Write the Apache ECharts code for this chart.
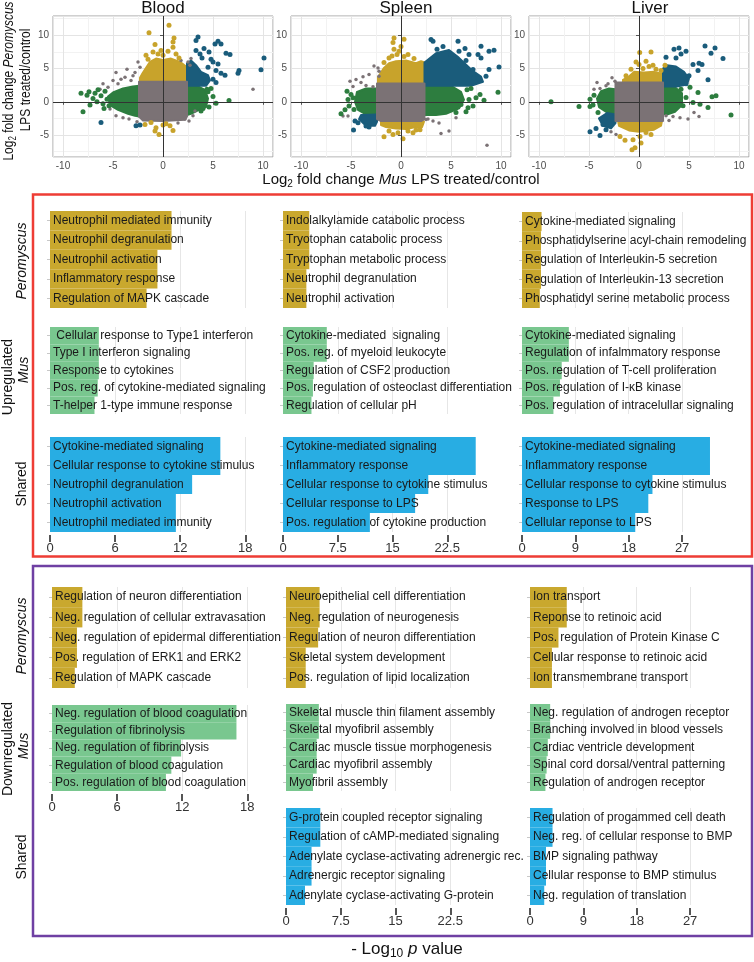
<!DOCTYPE html>
<html><head><meta charset="utf-8">
<script src="https://cdn.jsdelivr.net/npm/echarts@6/dist/echarts.min.js"></script>
<style>html,body{margin:0;padding:0;background:#fff}#c{width:754px;height:962px}</style>
</head><body><div id="c"></div><script>
// ---------- Scatter data (log2 fold change: [Mus, Peromyscus]) ----------
const bloodGreyCore = [[-2.4,3.0],[2.4,3.0],[2.4,-2.2],[2.2,-2.7],[0,-2.9],[-2.0,-2.8],[-2.4,-2.2]];
const bloodYellowCore = [[-2.3,2.9],[2.4,2.9],[2.4,5.2],[1.7,6.0],[0.8,6.5],[0,6.3],[-0.7,6.5],[-1.3,6.0],[-2.0,4.4],[-2.3,3.6]];
const bloodGreenLeftCore = [[-2.4,-2.2],[-2.4,2.4],[-3.0,2.3],[-4.0,2.0],[-5.0,1.4],[-5.5,0.8],[-5.3,-0.5],[-4.5,-1.2],[-3.5,-1.8],[-2.8,-2.1]];
const bloodGreenRightCore = [[2.4,-2.0],[2.4,2.4],[3.5,2.3],[4.2,1.8],[4.5,0.5],[4.3,-0.8],[3.5,-1.3],[2.8,-1.8]];
const bloodBlueCore = [[2.4,2.4],[4.3,2.4],[4.7,3.2],[4.5,4.0],[3.8,4.5],[3.3,5.5],[2.8,6.2],[2.4,5.8]];
const bloodGreyPts = [[9.0,1.9],[-4.7,4.4],[-2.5,6.0],[-2.3,5.2],[-3.8,3.7],[-3.2,3.2],[-4.5,2.7],[-2.8,4.4],[-3.0,3.9],[-5.0,3.2],[-6.0,2.7],[-6.3,1.9],[2.5,6.0],[2.8,6.5],[2.7,5.5],[1.8,6.2],[2.2,-2.6],[3.0,-2.1],[-4.7,-2.1],[-5.3,-1.1],[-4.0,-2.4],[3.2,-1.4],[-3.4,-2.6],[-2.6,-3.0],[1.5,-3.2],[-3.6,4.9],[-4.2,3.4],[-5.5,2.2],[2.6,-2.9]];
const bloodYellowPts = [[-1.4,10.4],[1.1,9.6],[1.0,9.0],[0.6,11.5],[-0.8,8.6],[-0.2,7.7],[-1.0,7.5],[0.0,7.0],[1.0,8.2],[1.3,7.2],[-1.7,7.0],[-1.2,-3.1],[-1.8,-3.4],[-0.7,-3.9],[-0.4,-4.9],[0.0,-3.5],[0.3,-3.3],[1.0,-4.3],[0.7,-3.6],[-0.8,-4.4],[-0.5,7.2],[0.5,7.6],[1.6,6.6],[-1.5,6.4]];
const bloodGreenPts = [[-8.2,1.3],[-8.0,-1.5],[-7.6,1.0],[-7.4,1.5],[-7.0,0.5],[-6.8,1.3],[-6.5,1.8],[-6.2,0.9],[-6.0,-0.3],[-5.8,1.6],[-5.6,0.4],[-5.4,-0.6],[-6.6,0.0],[-7.3,-0.5],[-5.9,-1.0],[6.6,0.2],[4.6,-0.8],[4.5,1.5],[4.4,1.9],[5.0,0.8],[4.0,-1.0],[3.8,-1.4],[5.3,-0.2],[4.8,2.0]];
const bloodBluePts = [[3.5,9.75],[3.3,9.2],[5.5,9.1],[5.8,8.7],[5.2,8.7],[4.1,8.0],[4.6,7.5],[3.3,7.7],[6.3,7.3],[6.7,7.1],[5.0,6.0],[5.5,5.7],[5.3,4.7],[5.8,4.3],[7.6,4.7],[7.5,4.3],[10.1,6.6],[9.8,4.8],[3.7,7.2],[4.5,5.2],[5.3,2.9],[-6.2,-3.1],[-2.7,-3.6],[-2.3,-3.5],[4.8,6.4],[3.9,6.6],[6.2,4.0],[5.0,3.4]];

const spleenGreyCore = [[-2.4,-2.6],[-2.0,-2.9],[2.0,-2.9],[2.35,-2.6],[2.35,2.75],[-2.4,2.75]];
const spleenYellowTopCore = [[-2.3,2.7],[2.35,2.7],[2.35,5.9],[2.0,6.1],[1.5,5.8],[0.5,6.2],[-0.5,6.1],[-1.2,5.8],[-1.7,5.1],[-2.3,3.7]];
const spleenYellowBottomCore = [[-2.0,-2.8],[2.0,-2.8],[2.3,-3.0],[2.1,-3.8],[1.5,-3.8],[0.5,-4.1],[-0.5,-4.0],[-1.5,-3.8],[-2.0,-3.5]];
const spleenGreenRightCore = [[2.35,-2.0],[2.35,2.4],[5.0,2.4],[6.0,1.5],[6.3,0.3],[5.8,-1.0],[4.5,-1.8],[3.5,-2.0]];
const spleenGreenLeftCore = [[-2.4,-2.2],[-2.4,2.0],[-3.5,2.0],[-4.4,1.5],[-4.6,0.0],[-4.3,-1.2],[-3.5,-1.9]];
const spleenBlueUpperCore = [[2.35,2.4],[7.0,2.4],[8.2,3.0],[8.0,3.8],[7.2,4.6],[5.8,6.6],[4.8,7.8],[3.5,7.3],[2.35,5.9]];
const spleenBlueLowerCore = [[-2.4,-1.9],[-4.0,-2.0],[-4.2,-2.6],[-3.5,-3.6],[-2.6,-3.6],[-2.4,-3.0]];
const spleenGreyPts = [[-5.1,3.1],[-4.5,3.35],[-3.8,3.75],[-3.2,4.1],[-2.3,5.1],[-2.2,4.6],[-2.2,3.85],[-2.8,2.25],[-3.5,2.45],[2.5,-2.65],[3.2,-2.9],[4.0,-4.75],[4.8,-4.4],[8.6,-6.55],[2.7,-2.6],[-5.8,-2.15],[-5.3,-2.15],[-2.7,5.4],[-4.0,2.9],[3.8,-3.2],[-4.8,2.3],[5.5,-2.4]];
const spleenYellowPts = [[-0.7,9.6],[-0.8,8.9],[0.3,9.4],[-0.7,7.9],[-0.9,6.9],[-0.2,7.6],[0.7,7.1],[-1.7,5.9],[-1.7,-5.25],[-0.8,-4.9],[-0.3,-4.65],[0.2,-5.55],[1.2,-4.65],[1.5,-4.25],[-1.2,-4.4],[0.7,-4.4],[-1.2,6.6],[1.3,6.5],[0.0,8.3],[-0.4,7.1],[0.3,6.8],[1.9,-4.2]];
const spleenGreenPts = [[9.7,1.45],[7.9,1.1],[7.5,0.6],[6.8,0.35],[8.3,0.25],[6.7,-0.9],[6.5,-1.5],[7.2,-0.65],[6.0,-0.4],[6.6,1.8],[7.0,2.0],[-5.4,1.6],[-5.0,1.1],[-5.3,0.35],[-6.0,-1.8],[-5.2,-0.65],[-4.7,-1.15],[-4.8,0.6],[-5.6,-1.2],[5.5,-1.6]];
const spleenBluePts = [[3.0,9.35],[3.2,9.1],[5.7,9.1],[8.0,8.35],[8.8,7.6],[9.3,7.75],[9.8,5.25],[7.7,7.1],[8.0,6.6],[6.8,7.1],[5.8,7.6],[5.0,7.1],[7.2,4.85],[8.5,3.85],[7.3,3.6],[8.8,4.85],[6.4,8.0],[4.2,8.3],[3.6,7.9],[6.5,6.2],[-4.75,-4.25],[-4.3,-3.15],[-3.2,-3.8],[-3.5,-3.65],[-4.6,-2.9]];

const liverGreyCore = [[-2.35,-2.9],[2.4,-2.9],[2.4,2.9],[-2.35,2.9]];
const liverYellowTopCore = [[-1.6,2.85],[2.4,2.85],[2.4,4.2],[1.5,4.5],[0.5,4.4],[-0.5,4.5],[-1.0,3.8],[-1.6,3.3]];
const liverYellowBottomCore = [[-2.1,-2.85],[2.3,-2.85],[2.2,-3.6],[1.5,-4.2],[0,-4.5],[-1.0,-4.3],[-2.0,-3.6]];
const liverGreenLeftCore = [[-2.35,-1.9],[-2.35,1.9],[-3.0,2.0],[-3.8,1.6],[-4.2,0.5],[-4.0,-0.8],[-3.2,-1.6]];
const liverGreenRightCore = [[2.4,-1.8],[2.4,2.3],[3.6,2.2],[4.3,1.3],[4.3,-0.5],[3.6,-1.5],[2.8,-1.9]];
const liverBlueUpperCore = [[2.4,2.3],[3.8,2.3],[4.8,2.6],[5.0,3.5],[4.5,4.5],[3.7,5.3],[2.8,5.5],[2.4,5.0]];
const liverBlueLowerCore = [[-2.35,-1.9],[-3.2,-1.7],[-4.0,-2.5],[-3.6,-3.6],[-2.8,-4.0],[-2.35,-3.2]];
const liverGreyPts = [[-3.3,2.4],[-3.9,2.0],[-2.4,3.1],[-3.1,2.7],[2.7,-2.1],[3.4,-2.2],[4.1,-2.4],[6.0,-2.2],[4.9,-2.6],[-2.3,-4.9],[-2.8,-4.5],[-4.2,2.9],[-2.7,3.6],[5.5,-1.6],[3.0,-2.8],[-4.5,1.9]];
const liverYellowPts = [[0.07,7.4],[1.2,7.5],[-0.3,6.0],[0,5.6],[0.7,6.1],[1.4,5.5],[1.7,4.9],[2.2,4.7],[-0.8,4.9],[0.4,5.0],[2.6,5.5],[-0.7,-7.2],[-0.4,-6.9],[0.2,-6.2],[-1.4,-5.8],[-0.6,-5.7],[0.1,-5.2],[-1.9,-5.2],[0.7,-4.6],[1.2,-4.9],[-1.3,3.9],[1.0,5.3]];
const liverGreenPts = [[-8.8,0.0],[-6.0,-0.7],[-4.9,-0.7],[-4.6,-0.5],[-4.9,0.4],[-4.1,-1.6],[9.2,-2.0],[7.7,0.9],[7.3,0.75],[6.9,-0.85],[6.1,-0.35],[5.4,-0.1],[4.7,0.65],[5.9,1.4],[4.4,-0.6],[5.1,2.2],[4.2,1.9],[-4.5,1.0]];
const liverBluePts = [[6.6,8.4],[7.6,8.1],[7.2,7.3],[4.7,7.6],[4.0,8.1],[3.5,7.9],[8.4,6.5],[6.0,5.8],[6.3,5.6],[5.4,5.6],[5.9,4.7],[6.9,3.3],[2.7,6.7],[4.2,7.2],[3.7,6.6],[5.0,3.9],[4.7,2.7],[-4.9,-4.5],[-3.9,-5.05],[-4.3,-4.0],[-3.6,-3.4],[-3.3,-4.2]];

// ---------- Bar data (-log10 p) ----------
const upBloodPeroLabels = ["Neutrophil mediated immunity","Neutrophil degranulation","Neutrophil activation","Inflammatory response","Regulation of MAPK cascade"];
const upBloodPeroValues = [11.2,11.2,9.9,9.9,8.9];
const upSpleenPeroLabels = ["Indolalkylamide catabolic process","Tryotophan catabolic process","Tryptophan metabolic process","Neutrophil degranulation","Neutrophil activation"];
const upSpleenPeroValues = [3.6,3.6,3.6,3.2,3.2];
const upLiverPeroLabels = ["Cytokine-mediated signaling","Phosphatidylserine acyl-chain remodeling","Regulation of Interleukin-5 secretion","Regulation of Interleukin-13 secretion","Phosphatidyl serine metabolic process"];
const upLiverPeroValues = [3.3,3.2,3.2,3.2,3.0];
const upBloodMusLabels = [" Cellular response to Type1 interferon","Type I interferon signaling","Response to cytokines","Pos. reg. of cytokine-mediated signaling","T-helper 1-type immune response"];
const upBloodMusValues = [4.5,4.5,4.5,4.4,4.1];
const upSpleenMusLabels = ["Cytokine-mediated  signaling","Pos. reg. of myeloid leukocyte","Regulation of CSF2 production","Pos. regulation of osteoclast differentiation","Regulation of cellular pH"];
const upSpleenMusValues = [6.0,6.0,4.2,4.1,3.9];
const upLiverMusLabels = ["Cytokine-mediated signaling","Regulation of infalmmatory response","Pos. regulation of T-cell proliferation","Pos. regulation of I-\u03baB kinase","Pos. regulation of intracelullar signaling"];
const upLiverMusValues = [7.9,7.9,6.7,6.4,5.3];
const upBloodSharedLabels = ["Cytokine-mediated signaling","Cellular response to cytokine stimulus","Neutrophil degranulation","Neutrophil activation","Neutrophil mediated immunity"];
const upBloodSharedValues = [15.7,15.7,13.1,11.6,11.6];
const upSpleenSharedLabels = ["Cytokine-mediated signaling","Inflammatory response","Cellular response to cytokine stimulus","Cellular response to LPS","Pos. regulation of cytokine production"];
const upSpleenSharedValues = [26.4,26.4,19.9,18.1,11.9];
const upLiverSharedLabels = ["Cytokine-mediated signaling","Inflammatory response","Cellular response to cytokine stimulus","Response to LPS","Cellular reponse to LPS"];
const upLiverSharedValues = [31.7,31.7,22.0,21.3,19.1];

const downBloodPeroLabels = ["Regulation of neuron differentiation","Neg. regulation of cellular extravasation","Neg. regulation of epidermal differentiation","Pos. regulation of ERK1 and ERK2","Regulation of MAPK cascade"];
const downBloodPeroValues = [2.8,2.8,2.3,2.3,2.1];
const downSpleenPeroLabels = ["Neuroepithelial cell differentiation","Neg. regulation of neurogenesis","Regulation of neuron differentiation","Skeletal system development","Pos. regulation of lipid localization"];
const downSpleenPeroValues = [4.6,4.6,4.4,2.7,2.7];
const downLiverPeroLabels = ["Ion transport","Reponse to retinoic acid","Pos. regulation of Protein Kinase C","Cellular response to retinoic acid","Ion transmembrane transport"];
const downLiverPeroValues = [6.2,6.2,4.8,3.7,3.7];
const downBloodMusLabels = ["Neg. regulation of blood coagulation","Regulation of fibrinolysis","Neg. regulation of fibrinolysis","Regulation of blood coagulation","Pos. regulation of blood coagulation"];
const downBloodMusValues = [17.0,17.0,11.9,11.0,10.5];
const downSpleenMusLabels = ["Skeletal muscle thin filament assembly","Skeletal myofibril assembly","Cardiac muscle tissue morphogenesis","Cardiac myofibril assembly","Myofibril assembly"];
const downSpleenMusValues = [4.5,4.5,4.2,4.2,3.7];
const downLiverMusLabels = ["Neg. regulation of androgen receptor","Branching involved in blood vessels","Cardiac ventricle development","Spinal cord dorsal/ventral patterning","Regulation of androgen receptor"];
const downLiverMusValues = [3.4,3.4,3.0,2.8,2.6];
const downSpleenSharedLabels = ["G-protein coupled receptor signaling","Regulation of cAMP-mediated signaling","Adenylate cyclase-activating adrenergic rec.","Adrenergic receptor signaling","Adenylate cyclase-activating G-protein"];
const downSpleenSharedValues = [4.7,4.7,3.5,3.5,2.6];
const downLiverSharedLabels = ["Regulation of progammed cell death","Neg. reg. of cellular response to BMP","BMP signaling pathway","Cellular response to BMP stimulus","Neg. regulation of translation"];
const downLiverSharedValues = [3.8,3.8,2.7,2.7,2.4];

const bloodTicks = [0,6,12,18];
const spleenTicks = [0,7.5,15,22.5];
const liverTicks = [0,9,18,27];

// ---------- build ----------
const FONT = '"Liberation Sans", Arial, Helvetica, sans-serif';
const COL = {yellow:'#c8a32b', green:'#2d7d3f', blue:'#1a5c7b', grey:'#7b7275',
             barY:'#c9a82e', barG:'#79c78f', barB:'#28ade3'};
const grids = [], xAxes = [], yAxes = [], series = [];

function addScatter(left, polys, pts) {
  const g = grids.length;
  grids.push({left:left, top:16, width:220, height:141, show:true, borderColor:'#a0a0a0', borderWidth:1});
  xAxes.push({gridIndex:g, type:'value', min:-11, max:11,
    axisLine:{show:false}, axisTick:{show:true, length:3, lineStyle:{color:'#555'}},
    axisLabel:{fontSize:10, color:'#4d4d4d', margin:4, fontFamily:FONT, showMinLabel:false, showMaxLabel:false},
    splitLine:{show:true, lineStyle:{color:'#e4e4e4'}},
    minorTick:{show:false, splitNumber:2}, minorSplitLine:{show:true, lineStyle:{color:'#f2f2f2'}}});
  yAxes.push({gridIndex:g, type:'value', min:-8.3, max:12.9,
    axisLine:{show:false}, axisTick:{show:true, length:3, lineStyle:{color:'#555'}},
    axisLabel:{fontSize:10, color:'#4d4d4d', margin:4, fontFamily:FONT, showMinLabel:false, showMaxLabel:false},
    splitLine:{show:true, lineStyle:{color:'#e4e4e4'}},
    minorTick:{show:false, splitNumber:2}, minorSplitLine:{show:true, lineStyle:{color:'#f2f2f2'}}});
  series.push({type:'custom', coordinateSystem:'cartesian2d', xAxisIndex:g, yAxisIndex:g, silent:true, z:2,
    data: polys.map(p => p.pts[0]),
    renderItem: function(params, api) {
      const p = polys[params.dataIndex];
      return {type:'polygon', shape:{points:p.pts.map(v => api.coord(v))},
        style:{fill:p.color, stroke:p.color, lineWidth:2, lineJoin:'round'}};
    }});
  pts.forEach(s => series.push({type:'scatter', xAxisIndex:g, yAxisIndex:g, silent:true, z:3,
    data:s.data, symbolSize:s.size, itemStyle:{color:s.color, opacity:1}}));
  series.push({type:'scatter', xAxisIndex:g, yAxisIndex:g, data:[], silent:true, z:5,
    markLine:{silent:true, symbol:['none','none'], label:{show:false}, animation:false,
      lineStyle:{color:'#333', width:1, type:'solid'}, data:[{xAxis:0},{yAxis:0}]}});
}

addScatter(53, [
  {pts:bloodGreenLeftCore, color:COL.green},{pts:bloodGreenRightCore, color:COL.green},
  {pts:bloodYellowCore, color:COL.yellow},{pts:bloodBlueCore, color:COL.blue},
  {pts:bloodGreyCore, color:COL.grey}],
  [{data:bloodGreyPts, color:COL.grey, size:3.5},{data:bloodYellowPts, color:COL.yellow, size:5},
   {data:bloodGreenPts, color:COL.green, size:5},{data:bloodBluePts, color:COL.blue, size:5}]);
addScatter(291, [
  {pts:spleenGreenLeftCore, color:COL.green},{pts:spleenGreenRightCore, color:COL.green},
  {pts:spleenYellowTopCore, color:COL.yellow},{pts:spleenYellowBottomCore, color:COL.yellow},
  {pts:spleenBlueUpperCore, color:COL.blue},{pts:spleenBlueLowerCore, color:COL.blue},
  {pts:spleenGreyCore, color:COL.grey}],
  [{data:spleenGreyPts, color:COL.grey, size:3.5},{data:spleenYellowPts, color:COL.yellow, size:5},
   {data:spleenGreenPts, color:COL.green, size:5},{data:spleenBluePts, color:COL.blue, size:5}]);
addScatter(529, [
  {pts:liverGreenLeftCore, color:COL.green},{pts:liverGreenRightCore, color:COL.green},
  {pts:liverYellowTopCore, color:COL.yellow},{pts:liverYellowBottomCore, color:COL.yellow},
  {pts:liverBlueUpperCore, color:COL.blue},{pts:liverBlueLowerCore, color:COL.blue},
  {pts:liverGreyCore, color:COL.grey}],
  [{data:liverGreyPts, color:COL.grey, size:3.5},{data:liverYellowPts, color:COL.yellow, size:5},
   {data:liverGreenPts, color:COL.green, size:5},{data:liverBluePts, color:COL.blue, size:5}]);

function addBars(left, top, height, unitPx, max, interval, ticks, color, labels, values, showAxis) {
  const g = grids.length;
  grids.push({left:left, top:top, width:max*unitPx, height:height});
  xAxes.push({gridIndex:g, type:'value', min:0, max:max, interval:interval, offset:3,
    axisLine:{show:false},
    axisTick:{show:showAxis, customValues:ticks, length:7, lineStyle:{color:'#555', width:2}},
    axisLabel:{show:showAxis, customValues:ticks, fontSize:13, color:'#333', margin:7, fontFamily:FONT},
    splitLine:{show:true, lineStyle:{color:'#e6e6e6'}}, minorTick:{show:false}, minorSplitLine:{show:false}});
  yAxes.push({gridIndex:g, type:'category', data:labels, inverse:true, offset:5,
    axisLine:{show:false}, axisLabel:{show:false}, splitLine:{show:false},
    axisTick:{show:true, alignWithLabel:true, length:3, lineStyle:{color:'#c8c8c8'}}});
  series.push({type:'bar', xAxisIndex:g, yAxisIndex:g, data:values, barCategoryGap:'0%', silent:true, z:2,
    itemStyle:{color:color},
    label:{show:true, position:'insideLeft', distance:3, formatter:'{b}', color:'#1a1a1a', fontSize:12, fontFamily:FONT}});
}
const U1=[50,10.85,20,3], U2=[283,7.3,27,3.75], U3=[522,5.93,33,4.5];
const D1=[52,10.85,20,3], D2=[286,7.3,27,3.75], D3=[530,5.93,33,4.5];
function B(c, top, h, ticks, color, labels, values, show){ addBars(c[0], top, h, c[1], c[2], c[3], ticks, color, labels, values, show); }
// upregulated (red box)
B(U1,211,97,bloodTicks,COL.barY,upBloodPeroLabels,upBloodPeroValues,false);
B(U2,211,97,spleenTicks,COL.barY,upSpleenPeroLabels,upSpleenPeroValues,false);
B(U3,212,96,liverTicks,COL.barY,upLiverPeroLabels,upLiverPeroValues,false);
B(U1,327,87,bloodTicks,COL.barG,upBloodMusLabels,upBloodMusValues,false);
B(U2,327,87,spleenTicks,COL.barG,upSpleenMusLabels,upSpleenMusValues,false);
B(U3,327,87,liverTicks,COL.barG,upLiverMusLabels,upLiverMusValues,false);
B(U1,437,95,bloodTicks,COL.barB,upBloodSharedLabels,upBloodSharedValues,true);
B(U2,437,95,spleenTicks,COL.barB,upSpleenSharedLabels,upSpleenSharedValues,true);
B(U3,437,95,liverTicks,COL.barB,upLiverSharedLabels,upLiverSharedValues,true);
// downregulated (purple box)
B(D1,587,101,bloodTicks,COL.barY,downBloodPeroLabels,downBloodPeroValues,false);
B(D2,587,101,spleenTicks,COL.barY,downSpleenPeroLabels,downSpleenPeroValues,false);
B(D3,587,101,liverTicks,COL.barY,downLiverPeroLabels,downLiverPeroValues,false);
B(D1,705,86,bloodTicks,COL.barG,downBloodMusLabels,downBloodMusValues,true);
B(D2,704,87,spleenTicks,COL.barG,downSpleenMusLabels,downSpleenMusValues,false);
B(D3,704,87,liverTicks,COL.barG,downLiverMusLabels,downLiverMusValues,false);
B(D2,808,97,spleenTicks,COL.barB,downSpleenSharedLabels,downSpleenSharedValues,true);
B(D3,808,97,liverTicks,COL.barB,downLiverSharedLabels,downLiverSharedValues,true);

// ---------- text / frames ----------
function richStyle(size) {
  return {
    n:{fontSize:size, fontFamily:FONT, fill:'#111', color:'#111', lineHeight:size+4},
    i:{fontSize:size, fontFamily:FONT, fontStyle:'italic', fill:'#111', color:'#111', lineHeight:size+4},
    s:{fontSize:Math.round(size*0.68), fontFamily:FONT, fill:'#111', color:'#111', lineHeight:Math.round(size*0.55), verticalAlign:'bottom'}
  };
}
function T(x, y, text, size, rot, rich, sx) {
  return {type:'text', x:x, y:y, rotation:rot||0, scaleX:sx||1, z:50, silent:true,
    style:{text:text, rich:rich?richStyle(size):undefined, font:size+'px '+FONT, fill:'#111',
      textAlign:'center', align:'center', textVerticalAlign:'middle', verticalAlign:'middle'}};
}
const R = Math.PI/2;
const graphics = [
  {type:'rect', z:40, silent:true, shape:{x:33, y:194.5, width:719, height:362}, style:{fill:'none', stroke:'#ee3d35', lineWidth:2.5}},
  {type:'rect', z:40, silent:true, shape:{x:33, y:566, width:719, height:370}, style:{fill:'none', stroke:'#6f40a3', lineWidth:2.5}},
  T(163, 8.5, 'Blood', 17), T(406, 8.5, 'Spleen', 17), T(650, 8.5, 'Liver', 17),
  T(9, 81, '{n|Log}{s|2}{n| fold change }{i|Peromyscus}', 15, R, true, 0.8),
  T(26, 80, '{n|LPS treated/control}', 15, R, true, 0.8),
  T(401, 180, '{n|Log}{s|2}{n| fold change }{i|Mus}{n| LPS treated/control}', 15, 0, true),
  T(22, 261, '{i|Peromyscus}', 14, R, true),
  T(8, 377, '{n|Upregulated}', 14, R, true),
  T(24, 370, '{i|Mus}', 14, R, true),
  T(22, 484, '{n|Shared}', 14, R, true),
  T(22, 636, '{i|Peromyscus}', 14, R, true),
  T(8, 749, '{n|Downregulated}', 14, R, true),
  T(24, 746, '{i|Mus}', 14, R, true),
  T(22, 857, '{n|Shared}', 14, R, true),
  T(407, 949, '{n|- Log}{s|10}{i| p}{n| value}', 17, 0, true)
];

const chart = echarts.init(document.getElementById('c'), null, {renderer:'canvas'});
chart.setOption({
  animation:false, backgroundColor:'#fff',
  textStyle:{fontFamily:FONT},
  grid:grids, xAxis:xAxes, yAxis:yAxes, series:series, graphic:graphics
});
</script></body></html>
